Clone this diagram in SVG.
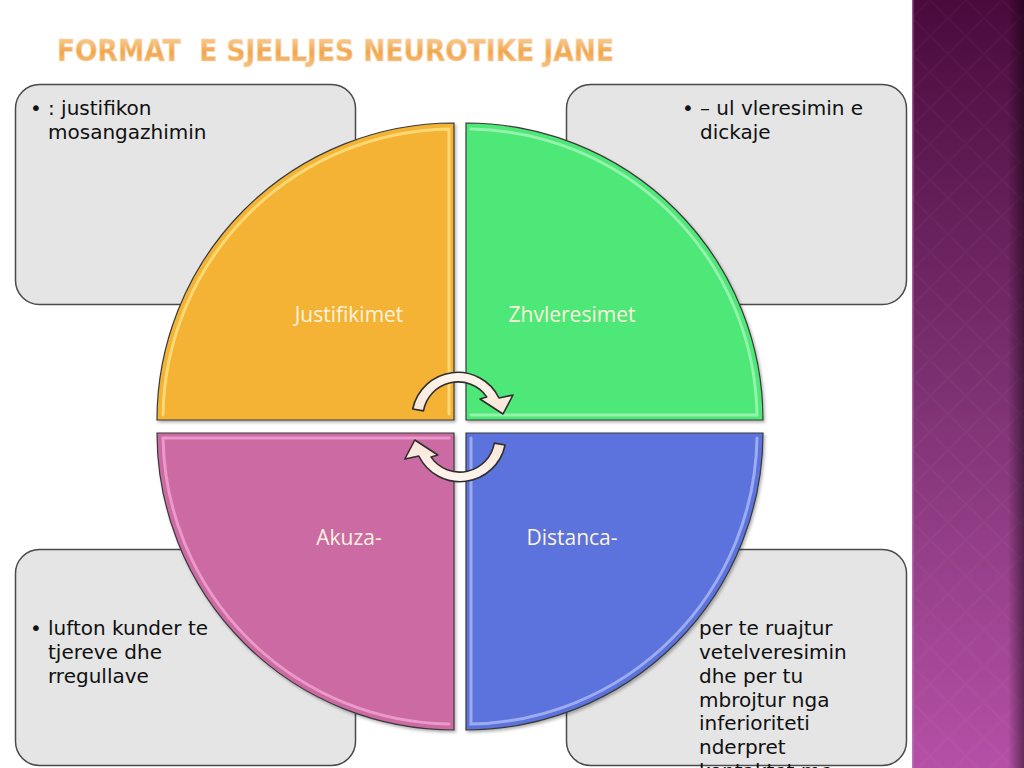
<svg xmlns="http://www.w3.org/2000/svg" width="1024" height="768" viewBox="0 0 1024 768">
<style>
.box{fill:#e5e5e5;stroke:#4a4a4a;stroke-width:1.5}
.bt{font-family:"DejaVu Sans",Verdana,sans-serif;font-size:20px;fill:#101010}
.ql{font-family:"Open Sans","Noto Sans",sans-serif;font-size:21px;fill:#fbf3df;text-anchor:middle}
.quad{stroke:#3a3a3a;stroke-width:1.2}
.hl{fill:none;stroke-width:3;stroke-linecap:round;opacity:0.75}
.arr{fill:url(#arrG);stroke:#2e2e2e;stroke-width:1.6;stroke-linejoin:round}
</style>
<defs>
<linearGradient id="side" x1="0" y1="0" x2="0" y2="1">
<stop offset="0" stop-color="#4a0a3c"/>
<stop offset="0.5" stop-color="#7b3171"/>
<stop offset="1" stop-color="#b550a6"/>
</linearGradient>
<linearGradient id="sideEdge" x1="0" y1="0" x2="1" y2="0">
<stop offset="0" stop-color="#000" stop-opacity="0"/>
<stop offset="1" stop-color="#000" stop-opacity="0.45"/>
</linearGradient>
<pattern id="dia" width="36" height="36" patternUnits="userSpaceOnUse" x="912">
<path d="M18 0 L36 18 L18 36 L0 18 Z" fill="none" stroke="#ffffff" stroke-opacity="0.025" stroke-width="2"/>
</pattern>
<linearGradient id="title" x1="0" y1="0" x2="0" y2="1">
<stop offset="0" stop-color="#fbd9ad"/>
<stop offset="0.55" stop-color="#f2a54c"/>
<stop offset="1" stop-color="#f7c486"/>
</linearGradient>
<linearGradient id="arrG" x1="0" y1="0" x2="0" y2="1">
<stop offset="0" stop-color="#fff6ef"/>
<stop offset="1" stop-color="#f8e4d6"/>
</linearGradient>
<filter id="sh" x="-5%" y="-5%" width="112%" height="112%">
<feDropShadow dx="1.5" dy="2" stdDeviation="1.5" flood-color="#000" flood-opacity="0.3"/>
</filter>
</defs>
<rect width="1024" height="768" fill="#ffffff"/>
<g id="sidebar">
<rect x="912" y="0" width="112" height="768" fill="url(#side)"/>
<rect x="912" y="0" width="112" height="768" fill="url(#dia)"/>
<rect x="1008" y="0" width="16" height="768" fill="url(#sideEdge)"/>
<rect x="912" y="0" width="1.5" height="768" fill="#c98abd" opacity="0.6"/>
</g>
<text id="title-text" x="57" y="61" style="white-space:pre" font-family="'DejaVu Sans',sans-serif" font-weight="bold" font-size="30" textLength="557" lengthAdjust="spacingAndGlyphs" fill="url(#title)" stroke="#f8d6ab" stroke-width="0.7">FORMAT  E SJELLJES NEUROTIKE JANE</text>

<g id="box-tl">
<rect class="box" x="15.5" y="84.5" width="340" height="220" rx="24"/>
<text class="bt" x="30" y="115">•</text>
<text class="bt" x="48" y="115">: justifikon</text>
<text class="bt" x="48" y="139">mosangazhimin</text>
</g>
<g id="box-tr">
<rect class="box" x="566.5" y="84.5" width="340" height="220" rx="24"/>
<text class="bt" x="682" y="115">•</text>
<text class="bt" x="700" y="115">– ul vleresimin e</text>
<text class="bt" x="700" y="139">dickaje</text>
</g>
<g id="box-bl">
<rect class="box" x="15.5" y="549.5" width="340" height="216" rx="24"/>
<text class="bt" x="30" y="635">•</text>
<text class="bt" x="48" y="635">lufton kunder te</text>
<text class="bt" x="48" y="659">tjereve dhe</text>
<text class="bt" x="48" y="683">rregullave</text>
</g>
<g id="box-br">
<rect class="box" x="566.5" y="549.5" width="340" height="216" rx="24"/>
<text class="bt" x="699" y="635">per te ruajtur</text>
<text class="bt" x="699" y="659">vetelveresimin</text>
<text class="bt" x="699" y="683">dhe per tu</text>
<text class="bt" x="699" y="707">mbrojtur nga</text>
<text class="bt" x="699" y="730">inferioriteti</text>
<text class="bt" x="699" y="754">nderpret</text>
<text class="bt" x="699" y="778">kontaktet me</text>
</g>

<g id="q-justifikimet">
<path class="quad" filter="url(#sh)" fill="#f5b336" d="M454 420 L157 420 A297 297 0 0 1 454 123 Z"/>
<path class="hl" stroke="#ffe58a" d="M163 415 A291 291 0 0 1 449 129 L449 414"/>
<text class="ql" x="349" y="322">Justifikimet</text>
</g>
<g id="q-zhvleresimet">
<path class="quad" filter="url(#sh)" fill="#4de877" d="M466 420 L466 123 A297 297 0 0 1 763 420 Z"/>
<path class="hl" stroke="#aef5bf" d="M471 129 A291 291 0 0 1 757 415 L471 415"/>
<text class="ql" x="572" y="322">Zhvleresimet</text>
</g>
<g id="q-akuza">
<path class="quad" filter="url(#sh)" fill="#cc6ba3" d="M454 433 L454 730 A297 297 0 0 1 157 433 Z"/>
<path class="hl" stroke="#f4aad6" d="M449 438 L163 438 A291 291 0 0 0 449 724"/>
<text class="ql" x="349" y="545">Akuza-</text>
</g>
<g id="q-distanca">
<path class="quad" filter="url(#sh)" fill="#5b72dc" d="M466 433 L763 433 A297 297 0 0 1 466 730 Z"/>
<path class="hl" stroke="#b3c0f5" d="M757 438 A291 291 0 0 1 471 724 L471 438"/>
<text class="ql" x="572" y="545">Distanca-</text>
</g>

<g id="connectors">
<path id="arrow-top" class="arr" d="M412.7 409 A46 46 0 0 1 499 398 L513 395 L503 414 L480 399 L486.7 396.9 A35 35 0 0 0 423.5 410.9 Z"/>
<path id="arrow-bottom" class="arr" transform="rotate(180 458.9 427)" d="M412.7 409 A46 46 0 0 1 499 398 L513 395 L503 414 L480 399 L486.7 396.9 A35 35 0 0 0 423.5 410.9 Z"/>
</g>
</svg>
